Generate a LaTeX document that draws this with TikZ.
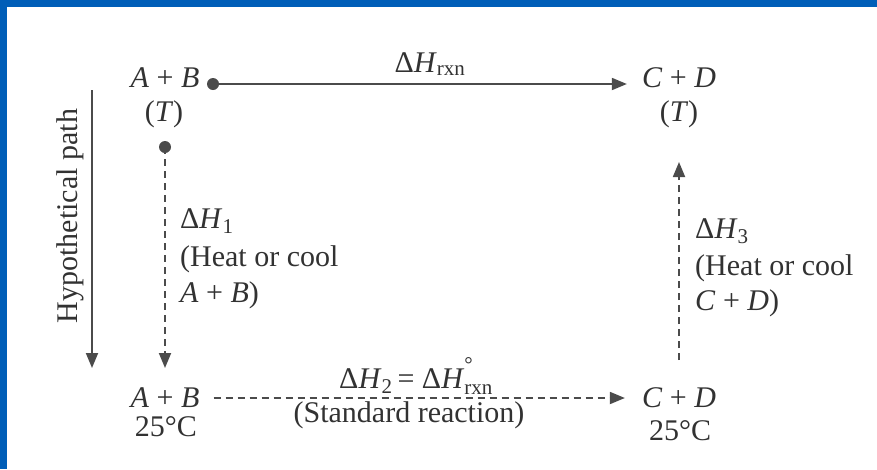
\documentclass[tikz,border=0pt]{standalone}
\usepackage{fontspec}
\setmainfont{Liberation Serif}
\usetikzlibrary{arrows.meta}
\definecolor{frameblue}{RGB}{0,94,184}
\definecolor{ink}{RGB}{50,50,50}
\definecolor{linec}{RGB}{75,75,75}
\newcommand{\supsub}[2]{\rlap{\raisebox{0.55ex}{\textsuperscript{#1}}}\raisebox{-0.15ex}{\textsubscript{#2}}}
\tikzset{
  lbl/.style={inner sep=0pt, text=ink, font=\fontsize{30}{36}\selectfont},
  lblw/.style={lbl, anchor=west},
  dotn/.style={circle, fill=linec, inner sep=0pt, minimum size=12pt},
  solidarrow/.style={draw=linec, line width=1.8pt, -{Triangle[length=15pt,width=12pt]}},
  dasharrow/.style={solidarrow, dash pattern=on 7pt off 5pt},
}
\begin{document}
\begin{tikzpicture}[x=1pt,y=-1pt]
\useasboundingbox (0,0) rectangle (877,469);
\fill[white] (0,0) rectangle (877,469);
\fill[frameblue] (0,0) rectangle (877,7);
\fill[frameblue] (0,0) rectangle (7,469);

% top row
\node[lbl] (ab1) at (165,78) {\textit{A} + \textit{B}};
\node[dotn] (d1) at (213,84) {};
\node[lbl] (cd1) at (679,78) {\textit{C} + \textit{D}};
\node[lbl] (hrxn) at (430,64) {Δ\textit{H}\textsubscript{rxn}};
\draw[solidarrow] (d1.center) -- ([xshift=-15pt]d1.center -| cd1.west);

\node[lbl] (t1) at (164,114) {(\textit{T})};
\node[lbl] (t2) at (679,114) {(\textit{T})};
\node[dotn] (d2) at (165,147) {};

% bottom row
\node[lbl] (ab2) at (165,398) {\textit{A} + \textit{B}};
\node[lbl] (cd2) at (679,398) {\textit{C} + \textit{D}};
\node[lbl] (c25a) at (166,427) {25°C};
\node[lbl] (c25b) at (680,431) {25°C};
\node[lbl] (h2) at (416,376) {Δ\textit{H}\textsubscript{2}\,= Δ\textit{H}\supsub{°}{rxn}};
\node[lbl] (std) at (409,415) {(Standard reaction)};

% vertical connectors
\draw[dasharrow] (d2.center) -- ([yshift=30pt]d2.center |- ab2.center);
\draw[dasharrow] ([yshift=38pt]t2.center |- cd2.center) -- ([yshift=-48pt]t2.center);
\draw[dasharrow] ([xshift=14pt]ab2.east) -- ([xshift=-17pt]ab2.center -| cd2.west);

% side texts
\node[lblw] (dh1) at (180,221) {Δ\textit{H}\textsubscript{1}};
\node[lblw] (hc1) at (180,259) {(Heat or cool};
\node[lblw] (ab3) at (180,295) {\textit{A} + \textit{B})};
\node[lblw] (dh3) at (695,231) {Δ\textit{H}\textsubscript{3}};
\node[lblw] (hc3) at (695,268) {(Heat or cool};
\node[lblw] (cd3) at (695,303) {\textit{C} + \textit{D})};

% hypothetical path
\coordinate (hpa) at (92,90);
\coordinate (hpb) at (92,368);
\draw[solidarrow] (hpa) -- (hpb);
\node[lbl, rotate=90] (hp) at (70,216) {Hypothetical path};
\end{tikzpicture}
\end{document}
